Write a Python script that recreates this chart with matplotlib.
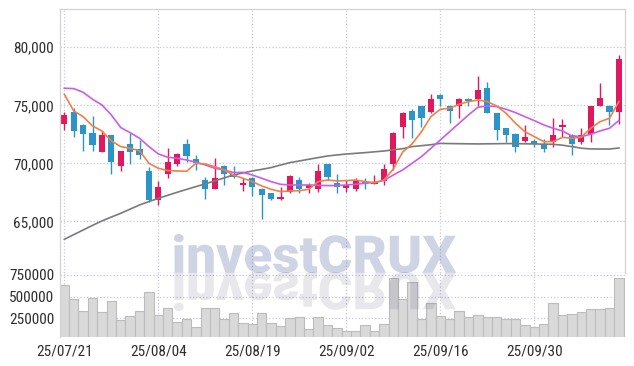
import matplotlib
matplotlib.use("Agg")
from matplotlib import pyplot as plt
from matplotlib.font_manager import FontProperties, fontManager
from matplotlib.patches import PathPatch
from matplotlib.textpath import TextPath
from matplotlib.transforms import Affine2D
import numpy as np

# narrow face for the tick labels, if there is one
installed = {f.name for f in fontManager.ttflist}
label_size = 9.6
label_font = "Liberation Sans"
for name in ("Liberation Sans Narrow", "DejaVu Sans Condensed", "Roboto Condensed"):
  if name in installed:
    label_font, label_size = name, 11
    break
plt.rcParams["font.family"] = [label_font, "DejaVu Sans"]

# trading days (yy/mm/dd)
dates = [
  "25/07/21", "25/07/22", "25/07/23", "25/07/24", "25/07/25",
  "25/07/28", "25/07/29", "25/07/30", "25/07/31", "25/08/01",
  "25/08/04", "25/08/05", "25/08/06", "25/08/07", "25/08/08",
  "25/08/11", "25/08/12", "25/08/13", "25/08/14", "25/08/18",
  "25/08/19", "25/08/20", "25/08/21", "25/08/22", "25/08/25",
  "25/08/26", "25/08/27", "25/08/28", "25/08/29", "25/09/01",
  "25/09/02", "25/09/03", "25/09/04", "25/09/05", "25/09/08",
  "25/09/09", "25/09/10", "25/09/11", "25/09/12", "25/09/15",
  "25/09/16", "25/09/17", "25/09/18", "25/09/19", "25/09/22",
  "25/09/23", "25/09/24", "25/09/25", "25/09/26", "25/09/29",
  "25/09/30", "25/10/01", "25/10/02", "25/10/10", "25/10/13",
  "25/10/14", "25/10/15", "25/10/16", "25/10/17", "25/10/20",
]

opens = [
  73400, 74400, 73300, 72600, 71000, 72400, 69800, 71700, 71200, 69300,
  66800, 69100, 69900, 71700, 70400, 68600, 67800, 69800, 69100, 68100,
  68700, 67800, 67400, 66900, 67500, 68600, 67900, 67800, 69900, 68300,
  67900, 67800, 68400, 68200, 68500, 69900, 73100, 74500, 74900, 74400,
  75900, 74900, 74900, 75500, 75500, 76500, 74300, 73000, 72500, 71900,
  71900, 71700, 71800, 73100, 72400, 71800, 72500, 74900, 74900, 74400,
]
highs = [
  74400, 74800, 73350, 74100, 72800, 72450, 71100, 72600, 72000, 69700,
  68500, 71300, 70860, 72100, 70700, 68850, 70500, 69830, 69800, 68700,
  68800, 67900, 67400, 68000, 69000, 68800, 68300, 69900, 69900, 69100,
  68600, 68700, 68700, 69000, 69900, 72700, 74400, 74700, 74900, 76000,
  76000, 75000, 75600, 75600, 77500, 77000, 74300, 73000, 72600, 73300,
  72100, 72100, 73900, 73800, 72500, 73000, 74950, 76900, 75000, 79300,
]
lows = [
  72900, 72300, 71100, 71100, 71000, 69100, 69300, 69900, 70400, 66700,
  66400, 68700, 69800, 70100, 69400, 66900, 67800, 68100, 68700, 67600,
  67200, 65200, 66850, 66800, 67400, 67400, 67400, 67500, 68600, 67400,
  67500, 67600, 67800, 68200, 68100, 69400, 72200, 72200, 73100, 74300,
  74900, 73500, 73900, 74900, 74900, 74300, 72000, 71800, 71000, 71800,
  71400, 71000, 71400, 72300, 70700, 71700, 71800, 74900, 73300, 73400,
]
closes = [
  74200, 72800, 72500, 71600, 72400, 70100, 71100, 71000, 70700, 66800,
  68000, 70100, 70800, 70600, 70000, 67800, 68700, 69100, 68800, 68300,
  68000, 67300, 66900, 67100, 68900, 67800, 68100, 69300, 68800, 68000,
  68100, 68600, 68200, 68400, 69500, 72600, 74300, 73700, 73900, 75500,
  75500, 74500, 75500, 75400, 76300, 74300, 72900, 72400, 71400, 72300,
  71700, 71200, 72400, 73300, 71700, 72400, 74900, 75600, 74400, 79000,
]
volumes = [
  631000, 469000, 331000, 481000, 319000, 446000, 227000, 273000, 331000, 550000,
  288000, 365000, 204000, 238000, 146000, 373000, 373000, 242000, 308000, 192000,
  184000, 308000, 192000, 158000, 250000, 262000, 126000, 262000, 169000, 135000,
  100000, 100000, 169000, 100000, 181000, 712000, 469000, 666000, 238000, 423000,
  273000, 238000, 331000, 262000, 285000, 269000, 262000, 238000, 238000, 169000,
  146000, 181000, 423000, 285000, 300000, 319000, 354000, 354000, 365000, 712000,
]

# moving averages as drawn (short, medium, long)
ma_short = [
  75950, 74510, 74020, 73220, 72790, 71930, 71440, 71290, 71090, 70000,
  69570, 69370, 69340, 69310, 70000, 69940, 69710, 69430, 68990, 68710,
  68420, 68050, 67760, 67560, 67620, 67640, 67760, 68420, 68560, 68480,
  68510, 68560, 68420, 68330, 68560, 69500, 70980, 71670, 72730, 74020,
  74660, 74740, 75090, 75320, 75460, 75320, 74940, 74310, 73450, 72730,
  72300, 71870, 71870, 72240, 72160, 72240, 73020, 73590, 73880, 75320,
]
ma_mid = [
  76470, 76440, 76120, 75520, 75030, 74170, 73080, 72640, 72160, 71440,
  70810, 70520, 70430, 70290, 70090, 69860, 69570, 69430, 69200, 69220,
  68990, 68710, 68420, 68190, 68130, 68130, 68130, 68100, 68080, 68080,
  68130, 68190, 68280, 68360, 68510, 68990, 69430, 70000, 70580, 71290,
  72010, 72730, 73450, 74170, 74830, 74940, 74890, 74660, 74370, 74020,
  73680, 73310, 73020, 72790, 72360, 72300, 72500, 72790, 73020, 73680,
]
ma_long = [
  63450, 63850, 64250, 64650, 65030, 65370, 65690, 66050, 66410, 66700,
  66980, 67240, 67500, 67750, 67990, 68230, 68480, 68740, 68990, 69170,
  69340, 69480, 69630, 69850, 70060, 70200, 70350, 70490, 70630, 70720,
  70800, 70860, 70920, 70990, 71060, 71160, 71260, 71440, 71520, 71600,
  71720, 71700, 71690, 71680, 71670, 71680, 71690, 71700, 71700, 71680,
  71670, 71650, 71640, 71560, 71440, 71300, 71240, 71230, 71230, 71320,
]

price_ticks = [65000, 70000, 75000, 80000]
price_labels = ["65,000", "70,000", "75,000", "80,000"]
volume_ticks = [250000, 500000, 750000]
volume_labels = ["250000", "500000", "750000"]

UP, DOWN = "#e2185f", "#2b95c9"
GRID = "#c8c9dd"
W, H = 634, 366

fig = plt.figure(figsize=(W / 100, H / 100), dpi=100)
ax = fig.add_axes([60.3 / W, 1 - 272.7 / H, 564.2 / W, 263.4 / H])
axv = fig.add_axes([60.3 / W, 1 - 337.3 / H, 564.2 / W, 64.6 / H], sharex=ax)

x = np.arange(len(dates))
o, h, l, c = map(np.array, (opens, highs, lows, closes))
colors = np.where(c >= o, UP, DOWN)

# candles
ax.vlines(x, l, h, colors=colors, linewidth=1.0, zorder=2)
body = np.maximum(np.abs(c - o), 60)
ax.bar(x, body, bottom=np.minimum(o, c), width=0.66, color=colors, linewidth=0, zorder=2)

ax.plot(x, ma_long, color="#7a7a7a", linewidth=1.2, zorder=3)
ax.plot(x, ma_mid, color="#cb5ce6", linewidth=1.2, zorder=3)
ax.plot(x, ma_short, color="#ef8048", linewidth=1.2, zorder=3)

axv.bar(x, volumes, width=1.0, color="#d9d9d9", edgecolor="#bcbcbc", linewidth=0.8, zorder=2)

ax.set_xlim(-0.43, 59.6)
ax.set_ylim(60570, 83275)
axv.set_ylim(30600, 776500)

ax.set_yticks(price_ticks, price_labels)
axv.set_yticks(volume_ticks, volume_labels)
axv.set_xticks(x[::10], dates[::10])

for a in (ax, axv):
  a.grid(True, color=GRID, linestyle=":", linewidth=0.9, zorder=0)
  a.set_axisbelow(True)
  a.tick_params(length=0, labelsize=label_size, labelcolor="#2e2e2e", pad=4.5)
  for side in ("top", "left", "right", "bottom"):
    a.spines[side].set_color("#d3d3d3")
    a.spines[side].set_linewidth(0.9)
ax.tick_params(axis="x", labelbottom=False)
ax.spines["bottom"].set_color("#c4c4c4")
axv.spines["top"].set_visible(False)
axv.spines["right"].set_visible(False)
axv.spines["bottom"].set_visible(False)
axv.tick_params(axis="x", pad=5)

# watermark and its reflection
fp = FontProperties(family=["Roboto", "Liberation Sans"], weight="black")
tp = TextPath((0, 0), "investCRUX", size=1, prop=fp)
ext = tp.get_extents()
sx = 2.82 / ext.width
sy = 0.385 / ext.y1
base = Affine2D().translate(-ext.x0, 0)
mark = PathPatch(
  tp, facecolor=(40 / 255, 60 / 255, 140 / 255, 0.22), edgecolor="none",
  transform=base + Affine2D().scale(sx, sy).translate(1.74, 0.935) + fig.dpi_scale_trans,
)
mirror = PathPatch(
  tp, facecolor=(60 / 255, 60 / 255, 100 / 255, 0.12), edgecolor="none",
  transform=base + Affine2D().scale(sx, -sy).translate(1.74, 0.935) + fig.dpi_scale_trans,
)
fig.add_artist(mark)
fig.add_artist(mirror)

fig.savefig("out.png", dpi=100)
